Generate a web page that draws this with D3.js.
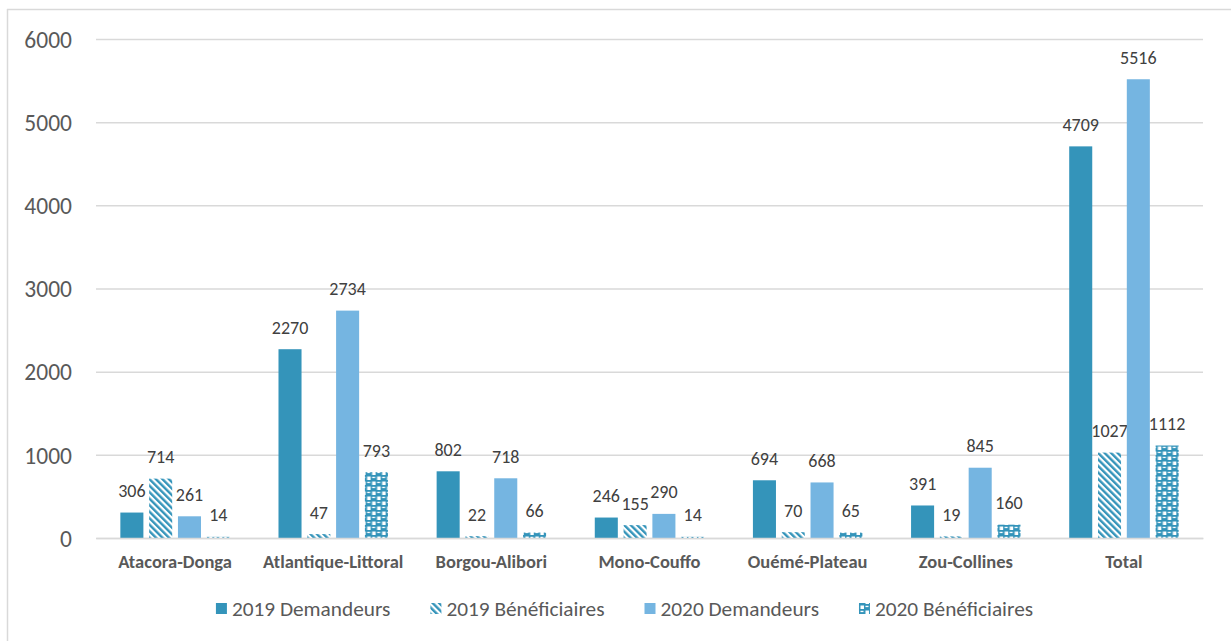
<!DOCTYPE html>
<html><head><meta charset="utf-8">
<script src="https://cdn.jsdelivr.net/npm/d3@7"></script>
<style>
html,body{margin:0;padding:0;background:#fff;}
svg{display:block;}
text{font-family:Carlito, Calibri, Lato, "Open Sans", sans-serif;}
</style></head>
<body><svg id="chart" width="1231" height="641"></svg>
<script>
const categories = ["Atacora-Donga","Atlantique-Littoral","Borgou-Alibori","Mono-Couffo","Ouémé-Plateau","Zou-Collines","Total"];
const seriesNames = ["2019 Demandeurs","2019 Bénéficiaires","2020 Demandeurs","2020 Bénéficiaires"];
const dem2019 = [306,2270,802,246,694,391,4709];
const ben2019 = [714,47,22,155,70,19,1027];
const dem2020 = [261,2734,718,290,668,845,5516];
const ben2020 = [14,793,66,14,65,160,1112];
const yTicks = [0,1000,2000,3000,4000,5000,6000];

const seriesValues = [dem2019, ben2019, dem2020, ben2020];
const fills = ["#3494BA","url(#pDiag)","#75B5E1","url(#pCheck)"];
const blue = "#3494BA";

const svg = d3.select("#chart");
const defs = svg.append("defs");

// diagonal stripes pattern
const pd = defs.append("pattern").attr("id","pDiag").attr("patternUnits","userSpaceOnUse")
  .attr("width",4.6).attr("height",4.6).attr("patternTransform","rotate(-45)");
pd.append("rect").attr("width",4.6).attr("height",4.6).attr("fill","#fff");
pd.append("rect").attr("width",2.4).attr("height",4.6).attr("fill",blue);

// checker-like pattern
const pc = defs.append("pattern").attr("id","pCheck").attr("patternUnits","userSpaceOnUse")
  .attr("width",10).attr("height",10);
pc.append("rect").attr("width",10).attr("height",10).attr("fill","#fff");
[[0,0],[5,5],[-5,5],[5,-5],[10,0],[0,10]].forEach(([px,py]) => {
  pc.append("rect").attr("x",px).attr("y",py).attr("width",6.5).attr("height",6.5).attr("fill",blue);
});
pc.append("rect").attr("x",1.5).attr("y",1.8).attr("width",3).attr("height",1.3).attr("fill","#fff");
pc.append("rect").attr("x",6.5).attr("y",6.8).attr("width",3).attr("height",1.3).attr("fill","#fff");

// chart border
svg.append("line").attr("x1",7.5).attr("x2",7.5).attr("y1",9).attr("y2",641).attr("stroke","#D9D9D9").attr("stroke-width",1.5);
svg.append("line").attr("x1",7).attr("x2",1231).attr("y1",9.5).attr("y2",9.5).attr("stroke","#D9D9D9").attr("stroke-width",1.5);

const plotL = 96, plotR = 1203, plotT = 39, plotB = 538;
const y = d3.scaleLinear().domain([0,6000]).range([plotB, plotT]);
const x0 = d3.scaleBand().domain(categories).range([plotL, plotR]).paddingInner(0.2715).paddingOuter(0.13575);
const x1 = d3.scaleBand().domain(seriesNames).range([0, x0.bandwidth()]).paddingInner(0.2).paddingOuter(0.1);

// gridlines
const yAxis = d3.axisLeft(y).tickValues(yTicks).tickSize(-(plotR-plotL)).tickPadding(24).tickFormat(d3.format("d"));
const gy = svg.append("g").attr("transform",`translate(${plotL},0)`).call(yAxis);
gy.select(".domain").remove();
gy.selectAll(".tick line").attr("stroke","#D9D9D9").attr("stroke-width",1.5);
gy.selectAll(".tick text").attr("fill","#595959").style("font-size","23.5px").attr("dy","0.35em");

// bars
const groups = svg.append("g").selectAll("g").data(categories).join("g")
  .attr("transform", c => `translate(${x0(c)},0)`);
seriesNames.forEach((s, si) => {
  groups.append("rect")
    .attr("x", x1(s))
    .attr("width", x1.bandwidth())
    .attr("y", (c, i) => y(seriesValues[si][i]))
    .attr("height", (c, i) => y(0) - y(seriesValues[si][i]))
    .attr("fill", fills[si]);
  groups.append("text")
    .attr("x", x1(s) + x1.bandwidth()/2)
    .attr("y", (c, i) => y(seriesValues[si][i]) - 15.5)
    .attr("text-anchor","middle")
    .attr("fill","#404040")
    .style("font-size","18px")
    .text((c, i) => seriesValues[si][i]);
});

// x axis
const xAxis = d3.axisBottom(x0).tickSize(0).tickPadding(17);
const gx = svg.append("g").attr("transform",`translate(0,${plotB})`).call(xAxis);
gx.select(".domain").attr("stroke","#D9D9D9").attr("stroke-width",1.5);
gx.selectAll(".tick text").attr("fill","#595959").style("font-size","18.5px").style("font-weight","bold");

// legend
const legend = svg.append("g");
const items = legend.selectAll("g").data(seriesNames).join("g");
items.append("rect").attr("width",11).attr("height",11).attr("y",-6).attr("fill",(d,i)=>fills[i]);
items.append("text").attr("x",16).attr("dy","0.35em").attr("fill","#595959").style("font-size","21.3px").text(d=>d);
let cx = 0;
items.each(function(){
  const w = this.querySelector("text").getComputedTextLength();
  d3.select(this).attr("transform",`translate(${cx},0)`);
  cx += 16 + w + 40;
});
const totalW = cx - 40;
legend.attr("transform",`translate(${624.5 - totalW/2},609)`);
</script></body></html>
